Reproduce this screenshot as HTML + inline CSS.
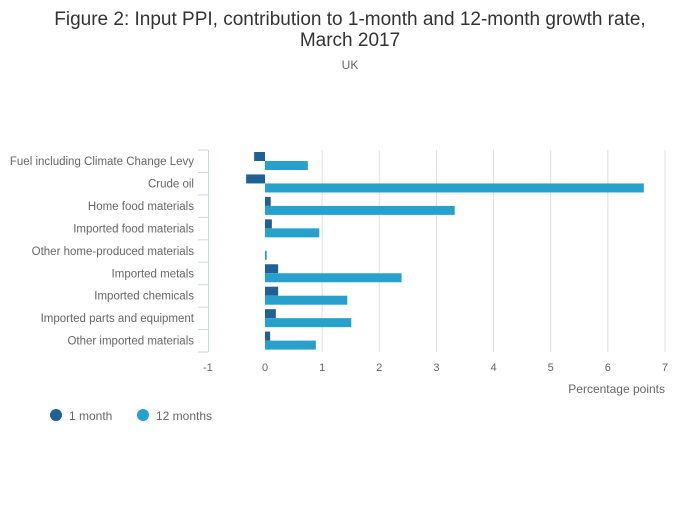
<!DOCTYPE html>
<html><head><meta charset="utf-8"><style>
body{margin:0;background:#fff;font-family:"Liberation Sans",sans-serif}
</style></head><body>
<svg width="700" height="502" xmlns="http://www.w3.org/2000/svg" font-family="Liberation Sans, sans-serif">
<text x="350" y="25" text-anchor="middle" font-size="19" fill="#333">Figure 2: Input PPI, contribution to 1-month and 12-month growth rate,</text>
<text x="350" y="46" text-anchor="middle" font-size="19" fill="#333">March 2017</text>
<text x="350" y="69" text-anchor="middle" font-size="12" fill="#666">UK</text>
<g id="grid"></g><g id="bars"></g><g id="labels"></g>
<text x="665" y="393" text-anchor="end" font-size="12" fill="#666">Percentage points</text>
<circle cx="56" cy="415" r="6" fill="#206095"/>
<text x="69" y="420" font-size="12" fill="#666">1 month</text>
<circle cx="143" cy="415" r="6" fill="#27a0cc"/>
<text x="156" y="420" font-size="12" fill="#666">12 months</text>
</svg>
<script>
const categories=["Fuel including Climate Change Levy","Crude oil","Home food materials","Imported food materials","Other home-produced materials","Imported metals","Imported chemicals","Imported parts and equipment","Other imported materials"];
const oneMonth=[-0.19,-0.33,0.10,0.12,0,0.23,0.23,0.19,0.09];
const twelveMonths=[0.75,6.63,3.32,0.95,0.03,2.39,1.44,1.51,0.89];
const xTicks=[-1,0,1,2,3,4,5,6,7];
const NS="http://www.w3.org/2000/svg";
const xs=v=>265+(v)*57.14;
const plotTop=150,rowH=22.45;
function mk(t,a,p){const e=document.createElementNS(NS,t);for(const k in a)e.setAttribute(k,a[k]);p.appendChild(e);return e;}
const g=document.getElementById('grid'),b=document.getElementById('bars'),l=document.getElementById('labels');
xTicks.forEach(t=>{
 if(t>0){const ln=mk('line',{x1:xs(t),x2:xs(t),y1:plotTop,y2:plotTop+rowH*categories.length,stroke:'#e0e0e0'},g);
 
 }
 const tx=mk('text',{x:xs(t),y:371,'text-anchor':'middle','font-size':11,fill:'#666'},l);tx.textContent=t;
 
 
});
const ax=mk('line',{x1:208.5,x2:208.5,y1:plotTop,y2:plotTop+rowH*categories.length,stroke:'#ccd6eb'},g);


for(let i=0;i<=categories.length;i++){const tk=mk('line',{x1:198,x2:208,y1:plotTop+i*rowH,y2:plotTop+i*rowH,stroke:'#ccd6eb'},g);
 
 }
categories.forEach((c,i)=>{
 const y0=plotTop+i*rowH;
 const t=mk('text',{x:194,y:y0+15,'text-anchor':'end','font-size':11.5,fill:'#666'},l);t.textContent=c;
 
 
 const v1=oneMonth[i],v2=twelveMonths[i];
 const r1=mk('rect',{x:Math.min(xs(0),xs(v1)),y:y0+2,width:Math.abs(xs(v1)-xs(0)),height:9,fill:'#206095'},b);
 
 
 const r2=mk('rect',{x:Math.min(xs(0),xs(v2)),y:y0+11,width:Math.abs(xs(v2)-xs(0)),height:9,fill:'#27a0cc'},b);
 
 
});
</script>
</body></html>
